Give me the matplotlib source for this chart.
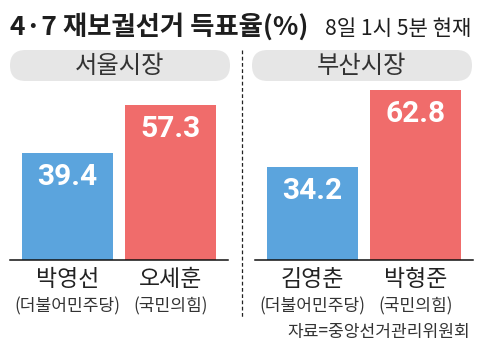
import matplotlib
matplotlib.use("Agg")
import matplotlib.pyplot as plt
from matplotlib.patches import FancyBboxPatch

plt.rcParams['font.family'] = ['Noto Sans CJK KR', 'DejaVu Sans']

title = "4·7 재보궐선거 득표율(%)"
subtitle = "8일 1시 5분 현재"
source = "자료=중앙선거관리위원회"

regions = ["서울시장", "부산시장"]
seoul_names = ["박영선", "오세훈"]
seoul_votes = [39.4, 57.3]
busan_names = ["김영춘", "박형준"]
busan_votes = [34.2, 62.8]
parties = ["(더불어민주당)", "(국민의힘)"]
colors = ["#5ba4dd", "#f06c6b"]

W, H = 486, 359
fig = plt.figure(figsize=(W / 100, H / 100), dpi=100)

# overlay axes in pixel coordinates for decorations
deco = fig.add_axes([0, 0, 1, 1])
deco.set_xlim(0, W)
deco.set_ylim(H, 0)
deco.axis("off")

deco.text(10, 35, title, fontsize=19, fontweight="bold", color="#1e1e1e", va="baseline")
deco.text(471, 35, subtitle, fontsize=15.2, color="#1e1e1e", va="baseline", ha="right")

for x0, name in zip([10, 252], regions):
    deco.add_patch(FancyBboxPatch((x0, 50), 220, 31,
                                  boxstyle="round,pad=0,rounding_size=15.5",
                                  fc="#e6e6e6", ec="none"))
    deco.text(x0 + 110, 66, name, fontsize=17.5, color="#333333", ha="center", va="center")

deco.plot([242, 242], [50, 318], color="#222222", lw=0.9, ls=(0, (3, 2)))
deco.text(470, 332, source, fontsize=12.3, color="#333333", ha="right", va="center")

px_per_unit = 2.71
ymax = 70
ax_h = ymax * px_per_unit
base_y = 260


def panel(left_px, names, votes):
    ax = fig.add_axes([left_px / W, (H - base_y) / H, 218 / W, ax_h / H])
    xs = range(len(votes))
    ax.bar(xs, votes, width=0.89, color=colors)
    ax.set_xlim(-0.558, 1.558)
    ax.set_ylim(0, ymax)
    for s in ["top", "left", "right"]:
        ax.spines[s].set_visible(False)
    ax.spines["bottom"].set_linewidth(1.1)
    ax.spines["bottom"].set_color("#111111")
    ax.set_xticks([])
    ax.set_yticks([])
    ax.patch.set_alpha(0)
    for x, v, n, p in zip(xs, votes, names, parties):
        ax.annotate(f"{v}", (x, v), xytext=(0, -24 * 0.72), textcoords="offset points",
                    ha="center", va="center", fontsize=21.5, fontweight="bold",
                    color="white", family=["Roboto", "DejaVu Sans"])
        ax.annotate(n, (x, 0), xytext=(0, -19 * 0.72), textcoords="offset points",
                    ha="center", va="center", fontsize=16.5, color="#222222",
                    annotation_clip=False)
        ax.annotate(p, (x, 0), xytext=(0, -46 * 0.72), textcoords="offset points",
                    ha="center", va="center", fontsize=12.3, color="#333333",
                    annotation_clip=False)
    return ax


panel(10, seoul_names, seoul_votes)
panel(255, busan_names, busan_votes)

fig.savefig("out.png", dpi=100)
